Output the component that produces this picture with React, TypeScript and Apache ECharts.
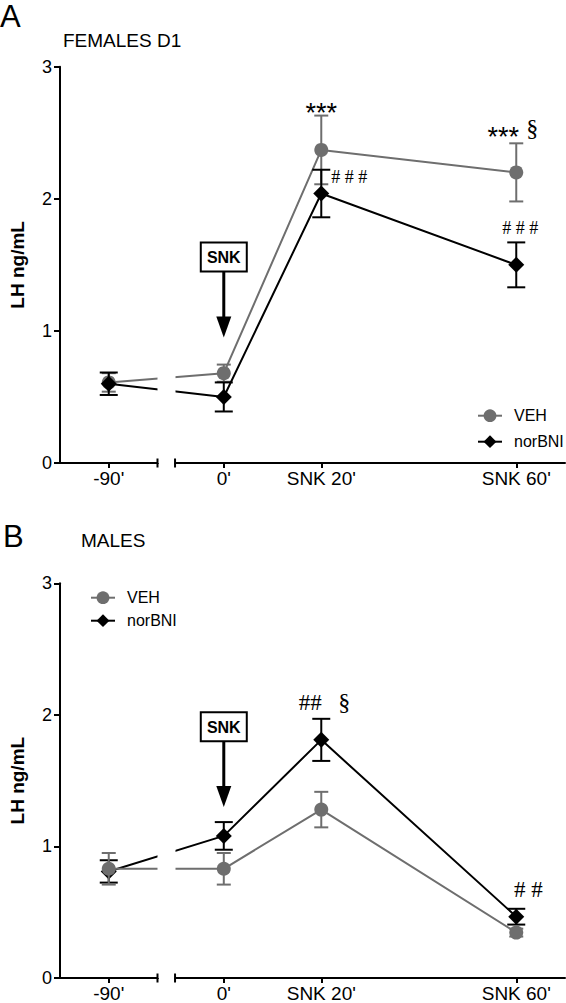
import React, { useEffect, useRef } from "react";
import * as echarts from "echarts";

// ---- data ----
const timeLabels = ["-90'", "0'", "SNK 20'", "SNK 60'"];
const timeMinutes = [-90, 0, 20, 60];
const yTicks = [0, 1, 2, 3];
const seriesNames = ["VEH", "norBNI"];

// Panel A: females D1 (mean, SEM; LH ng/mL)
const femVehMean = [0.61, 0.68, 2.37, 2.2];
const femVehSem = [0.07, 0.065, 0.26, 0.22];
const femNorMean = [0.6, 0.5, 2.04, 1.5];
const femNorSem = [0.085, 0.11, 0.18, 0.17];

// Panel B: males
const maleVehMean = [0.83, 0.83, 1.28, 0.345];
const maleVehSem = [0.12, 0.12, 0.135, 0.03];
const maleNorMean = [0.81, 1.08, 1.81, 0.466];
const maleNorSem = [0.085, 0.105, 0.16, 0.06];

// SNK injection marker at 0': [time, box top, arrow tip] (ng/mL)
const femSnkArrow = [0, 1.67, 0.95];
const maleSnkArrow = [0, 2.02, 1.3];

// axis break (minutes)
const breakStart = -80;
const breakEnd = -10;
const breakGap = 3.6;

// significance signs anchored on top of error bars
const femSigns = [
  { time: 20, ref: "veh", text: "***" },
  { time: 20, ref: "nor", text: "# # #" },
  { time: 60, ref: "veh", text: "***" },
  { time: 60, ref: "veh", text: "§" },
  { time: 60, ref: "nor", text: "# # #" },
];
const maleSigns = [
  { time: 20, ref: "nor", text: "##" },
  { time: 20, ref: "nor", text: "§" },
  { time: 60, ref: "nor", text: "# #" },
];

// ---- styles ----
const SANS = "'Liberation Sans', Arial, Helvetica, sans-serif";
const SERIF = "'Liberation Serif', 'Times New Roman', serif";
const GREY = "#6e6e6e";
const BLACK = "#000000";

const femSignStyle = [
  { dx: 0, dy: -3, font: `27px ${SANS}`, align: "center" },
  { dx: 10, dy: 7, font: `18px ${SERIF}`, align: "left" },
  { dx: -13, dy: -6, font: `27px ${SANS}`, align: "center" },
  { dx: 16, dy: -15, font: `24px ${SERIF}`, align: "center" },
  { dx: 4, dy: -14.5, font: `18px ${SERIF}`, align: "center" },
];
const maleSignStyle = [
  { dx: -11, dy: -16.3, font: `23px ${SERIF}`, align: "center" },
  { dx: 23, dy: -17, font: `24px ${SERIF}`, align: "center" },
  { dx: 12, dy: -18.8, font: `23px ${SERIF}`, align: "center" },
];

function errorBarSeries(name, gi, means, sems, color, cap, z) {
  return {
    type: "custom",
    name,
    xAxisIndex: gi,
    yAxisIndex: gi,
    z,
    silent: true,
    data: timeMinutes.map((t, i) => [t, means[i], sems[i]]),
    encode: { x: 0, y: 1 },
    renderItem: (params, api) => {
      const x = api.value(0);
      const m = api.value(1);
      const e = api.value(2);
      const top = api.coord([x, m + e]);
      const bot = api.coord([x, m - e]);
      const st = { stroke: color, lineWidth: 2 };
      return {
        type: "group",
        children: [
          { type: "line", shape: { x1: top[0], y1: top[1], x2: bot[0], y2: bot[1] }, style: st },
          { type: "line", shape: { x1: top[0] - cap / 2, y1: top[1], x2: top[0] + cap / 2, y2: top[1] }, style: st },
          { type: "line", shape: { x1: bot[0] - cap / 2, y1: bot[1], x2: bot[0] + cap / 2, y2: bot[1] }, style: st },
        ],
      };
    },
  };
}

function lineSeries(name, gi, means, color, symbol, size, z) {
  return {
    type: "line",
    name,
    xAxisIndex: gi,
    yAxisIndex: gi,
    z,
    data: timeMinutes.map((t, i) => [t, means[i]]),
    symbol,
    symbolSize: size,
    showSymbol: true,
    itemStyle: { color },
    lineStyle: { color, width: 2 },
  };
}

function signSeries(gi, signs, styles, vehMean, vehSem, norMean, norSem) {
  return {
    type: "custom",
    name: "signs" + gi,
    xAxisIndex: gi,
    yAxisIndex: gi,
    z: 20,
    silent: true,
    data: signs.map((s) => {
      const i = timeMinutes.indexOf(s.time);
      const y = s.ref === "veh" ? vehMean[i] + vehSem[i] : norMean[i] + norSem[i];
      return [s.time, y];
    }),
    renderItem: (params, api) => {
      const idx = params.dataIndex;
      const p = api.coord([api.value(0), api.value(1)]);
      const st = styles[idx];
      return {
        type: "text",
        x: p[0] + st.dx,
        y: p[1] + st.dy,
        style: {
          text: signs[idx].text,
          font: st.font,
          fill: BLACK,
          align: st.align,
          verticalAlign: "middle",
        },
      };
    },
  };
}

function snkSeries(gi, arrow) {
  return {
    type: "custom",
    name: "snk" + gi,
    xAxisIndex: gi,
    yAxisIndex: gi,
    z: 20,
    silent: true,
    data: [arrow],
    renderItem: (params, api) => {
      const x = api.value(0);
      const boxTop = api.coord([x, api.value(1)]);
      const tip = api.coord([x, api.value(2)]);
      const bw = 46;
      const bh = 29;
      const hw = 15;
      const hh = 21;
      return {
        type: "group",
        children: [
          {
            type: "rect",
            shape: { x: boxTop[0] - bw / 2, y: boxTop[1], width: bw, height: bh },
            style: { fill: "#fff", stroke: BLACK, lineWidth: 2 },
          },
          {
            type: "text",
            x: boxTop[0],
            y: boxTop[1] + bh / 2 + 1,
            style: { text: "SNK", font: `bold 16px ${SANS}`, fill: BLACK, align: "center", verticalAlign: "middle" },
          },
          {
            type: "line",
            shape: { x1: boxTop[0], y1: boxTop[1] + bh, x2: tip[0], y2: tip[1] - hh + 1 },
            style: { stroke: BLACK, lineWidth: 3 },
          },
          {
            type: "polygon",
            shape: { points: [[tip[0] - hw / 2, tip[1] - hh], [tip[0] + hw / 2, tip[1] - hh], [tip[0], tip[1]]] },
            style: { fill: BLACK },
          },
        ],
      };
    },
  };
}

function breakCapSeries(gi) {
  return {
    type: "custom",
    name: "caps" + gi,
    xAxisIndex: gi,
    yAxisIndex: gi,
    z: 200,
    silent: true,
    clip: false,
    data: [[breakStart, 0], [breakEnd, 0]],
    renderItem: (params, api) => {
      const p = api.coord([api.value(0), api.value(1)]);
      return {
        type: "line",
        shape: { x1: p[0], y1: p[1] - 4.5, x2: p[0], y2: p[1] + 4.5 },
        style: { stroke: BLACK, lineWidth: 2 },
      };
    },
  };
}

function xAxis(gi) {
  return {
    type: "value",
    gridIndex: gi,
    min: -100,
    max: 70,
    breaks: [{ start: breakStart, end: breakEnd, gap: breakGap }],
    breakArea: {
      show: true,
      expandOnClick: false,
      zigzagAmplitude: 0,
      zigzagZ: 100,
      itemStyle: { color: "#ffffff", borderColor: "#ffffff", borderWidth: 0, opacity: 1 },
    },
    axisLine: { show: true, onZero: false, lineStyle: { color: BLACK, width: 2 } },
    axisTick: { show: true, customValues: timeMinutes, length: 5, lineStyle: { color: BLACK, width: 2 } },
    axisLabel: {
      show: true,
      customValues: timeMinutes,
      formatter: (v) => {
        const i = timeMinutes.indexOf(v);
        return i >= 0 ? timeLabels[i] : "";
      },
      fontSize: 19,
      fontFamily: SANS,
      color: BLACK,
      margin: 6,
    },
    splitLine: { show: false },
  };
}

function yAxis(gi) {
  return {
    type: "value",
    gridIndex: gi,
    min: yTicks[0],
    max: yTicks[yTicks.length - 1],
    interval: 1,
    axisLine: { show: true, onZero: false, lineStyle: { color: BLACK, width: 2 } },
    axisTick: { show: true, length: 6, lineStyle: { color: BLACK, width: 2 } },
    axisLabel: { fontSize: 18, fontFamily: SANS, color: BLACK, margin: 8 },
    splitLine: { show: false },
    name: "LH ng/mL",
    nameLocation: "middle",
    nameRotate: 90,
    nameGap: 33,
    nameTextStyle: { fontSize: 19, fontWeight: "bold", fontFamily: SANS, color: BLACK },
  };
}

export default function App() {
  const ref = useRef(null);
  useEffect(() => {
    if (!ref.current) return;
    const chart = echarts.init(ref.current, null, { renderer: "svg" });
    const legendBase = {
      data: seriesNames,
      orient: "vertical",
      itemWidth: 24,
      itemHeight: 16,
      padding: 0,
      z: 300,
      selectedMode: false,
      textStyle: { fontSize: 16, fontFamily: SANS, color: BLACK, padding: [0, 0, 0, 7] },
    };
    chart.setOption({
      animation: false,
      backgroundColor: "#ffffff",
      grid: [
        { left: 58, top: 66.7, width: 507, height: 396.3 },
        { left: 58, top: 583.3, width: 507, height: 396.7 },
      ],
      xAxis: [xAxis(0), xAxis(1)],
      yAxis: [yAxis(0), yAxis(1)],
      legend: [
        { ...legendBase, left: 477, top: 407.7, itemGap: 10 },
        { ...legendBase, left: 90, top: 589.7, itemGap: 7 },
      ],
      graphic: [
        { type: "text", x: 0, y: 16, style: { text: "A", font: `31px ${SANS}`, fill: BLACK, verticalAlign: "middle" } },
        { type: "text", x: 63, y: 40, style: { text: "FEMALES D1", font: `19px ${SANS}`, fill: BLACK, verticalAlign: "middle" } },
        { type: "text", x: 3, y: 536, style: { text: "B", font: `31px ${SANS}`, fill: BLACK, verticalAlign: "middle" } },
        { type: "text", x: 81, y: 540, style: { text: "MALES", font: `19px ${SANS}`, fill: BLACK, verticalAlign: "middle" } },
      ],
      series: [
        // panel A
        lineSeries("VEH", 0, femVehMean, GREY, "circle", 14, 3),
        errorBarSeries("VEH err A", 0, femVehMean, femVehSem, GREY, 14, 3),
        lineSeries("norBNI", 0, femNorMean, BLACK, "diamond", 16, 4),
        errorBarSeries("norBNI err A", 0, femNorMean, femNorSem, BLACK, 18, 4),
        signSeries(0, femSigns, femSignStyle, femVehMean, femVehSem, femNorMean, femNorSem),
        snkSeries(0, femSnkArrow),
        breakCapSeries(0),
        // panel B
        lineSeries("norBNI", 1, maleNorMean, BLACK, "diamond", 16, 3),
        errorBarSeries("norBNI err B", 1, maleNorMean, maleNorSem, BLACK, 18, 3),
        lineSeries("VEH", 1, maleVehMean, GREY, "circle", 14, 4),
        errorBarSeries("VEH err B", 1, maleVehMean, maleVehSem, GREY, 14, 4),
        signSeries(1, maleSigns, maleSignStyle, maleVehMean, maleVehSem, maleNorMean, maleNorSem),
        snkSeries(1, maleSnkArrow),
        breakCapSeries(1),
      ],
    });
    return () => chart.dispose();
  }, []);
  return (
    <div
      ref={ref}
      style={{ position: "fixed", left: 0, top: 0, width: 566, height: 1003, background: "#fff" }}
    />
  );
}
